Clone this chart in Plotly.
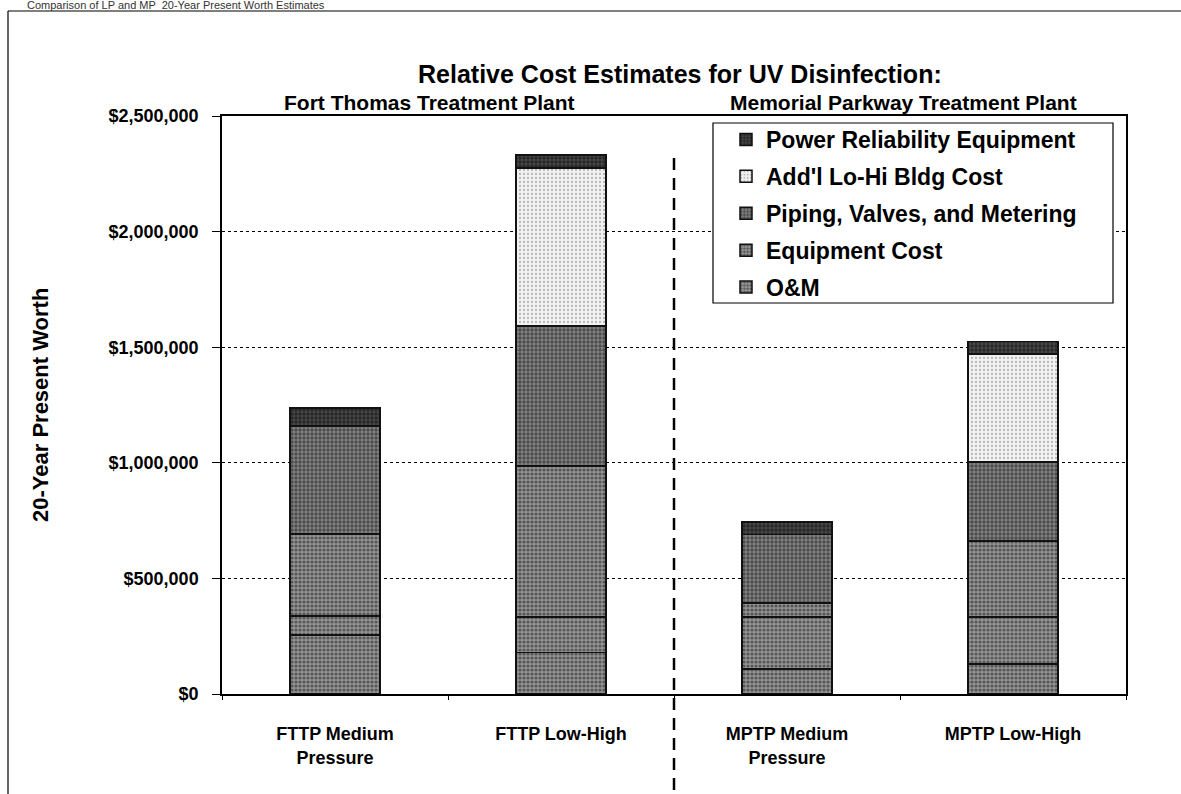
import plotly.graph_objects as go

categories = ["FTTP Medium<br>Pressure", "FTTP Low-High", "MPTP Medium<br>Pressure", "MPTP Low-High"]
base_cost = [255000, 180000, 108000, 130000]
om = [82000, 153000, 225000, 203000]
equipment = [355000, 653000, 61000, 329000]
piping = [467000, 606000, 296000, 341000]
lohi_bldg = [0, 683000, 0, 467000]
power_rel = [78000, 56000, 55000, 55000]

W, H = 1181, 794
L, R, T, B = 222, 1126, 116, 694


def px(xp):
    return (xp - L) / (R - L)


def py(yp):
    return (B - yp) / (B - T)


FONT = "Arial, Liberation Sans, sans-serif"

# name, values, bg, fg, solidity, in legend, legend rank
series = [
    ("Base", base_cost, "#939393", "#1a1a1a", 0.5, False, 6),
    ("O&M", om, "#959595", "#1a1a1a", 0.5, True, 5),
    ("Equipment Cost", equipment, "#939393", "#181818", 0.5, True, 4),
    ("Piping, Valves, and Metering", piping, "#848484", "#121212", 0.55, True, 3),
    ("Add'l Lo-Hi Bldg Cost", lohi_bldg, "#f2f2f2", "#7a7a7a", 0.25, True, 2),
    ("Power Reliability Equipment", power_rel, "#474747", "#080808", 0.55, True, 1),
]

fig = go.Figure()
for i, (name, vals, bg, fg, sol, show, rank) in enumerate(series):
    fig.add_trace(go.Bar(
        x=categories, y=vals, name=name, showlegend=show,
        legendgroup=f"g{i}", legendrank=rank,
        marker=dict(
            color=bg,
            line=dict(color="#111111", width=1.5),
            pattern=dict(shape=".", bgcolor=bg, fgcolor=fg, size=4, solidity=sol, fillmode="overlay"),
        ),
    ))

fig.update_layout(
    width=W, height=H,
    barmode="stack", bargap=0.6,
    margin=dict(l=L, r=W - R, t=T, b=H - B),
    paper_bgcolor="white", plot_bgcolor="white",
    font=dict(family=FONT, color="black"),
    showlegend=True,
    legend=dict(
        x=px(726), y=py(118), xanchor="left", yanchor="top",
        bgcolor="rgba(0,0,0,0)", borderwidth=0,
        font=dict(size=23, family=FONT, color="black", weight="bold"),
        traceorder="grouped", tracegroupgap=4,
        itemwidth=30,
    ),
)

fig.update_yaxes(
    range=[0, 2500000], dtick=500000, tickprefix="$", tickformat=",d",
    showgrid=True, gridcolor="black", gridwidth=1, griddash="3px,3px",
    showline=True, linecolor="black", linewidth=1.5, mirror=True,
    ticks="outside", ticklen=8, tickcolor="black", ticklabelstandoff=10,
    tickfont=dict(size=18, family=FONT, weight="bold"),
    zeroline=False,
)
fig.update_xaxes(
    showline=True, linecolor="black", linewidth=1.5, mirror=True,
    ticks="outside", ticklen=4, tickson="boundaries", tickcolor="black",
    tickfont=dict(size=18, family=FONT, weight="bold"),
    ticklabelstandoff=23,
)

# legend box (covers the grid like the original)
fig.add_shape(type="rect", xref="paper", yref="paper", x0=px(713), x1=px(1113), y0=py(303), y1=py(123),
              line=dict(color="black", width=1.2), fillcolor="white", layer="above")

# divider between plants
fig.add_shape(type="line", xref="x", yref="paper", x0=1.5, x1=1.5,
              y0=py(790), y1=py(150),
              line=dict(color="black", width=2.5, dash="12px,8px"))

# outer frame
fig.add_shape(type="line", xref="paper", yref="paper", x0=px(8), x1=px(1181), y0=py(11), y1=py(11),
              line=dict(color="black", width=1.2))
fig.add_shape(type="line", xref="paper", yref="paper", x0=px(8), x1=px(8), y0=py(11), y1=py(794),
              line=dict(color="black", width=1.2))

ann = [
    dict(text="Comparison of LP and MP  20-Year Present Worth Estimates", x=px(25), y=py(-3),
         xanchor="left", yanchor="top", font=dict(size=11, color="#333333")),
    dict(text="<b>Relative Cost Estimates for UV Disinfection:</b>", x=px(680), y=py(74),
         xanchor="center", yanchor="middle", font=dict(size=25)),
    dict(text="<b>Fort Thomas Treatment Plant</b>", x=px(429), y=py(102),
         xanchor="center", yanchor="middle", font=dict(size=21)),
    dict(text="<b>Memorial Parkway Treatment Plant</b>", x=px(903), y=py(102),
         xanchor="center", yanchor="middle", font=dict(size=21)),
    dict(text="<b>20-Year Present Worth</b>", x=px(40), y=py(405), textangle=-90,
         xanchor="center", yanchor="middle", font=dict(size=22)),
]
for a in ann:
    a.update(xref="paper", yref="paper", showarrow=False)
    a["font"].setdefault("family", FONT)
    a["font"].setdefault("color", "black")
    fig.add_annotation(**a)

fig.write_html("out.html", config={"displayModeBar": False},
               post_script="document.body.style.margin='0';document.body.style.overflow='hidden';")
